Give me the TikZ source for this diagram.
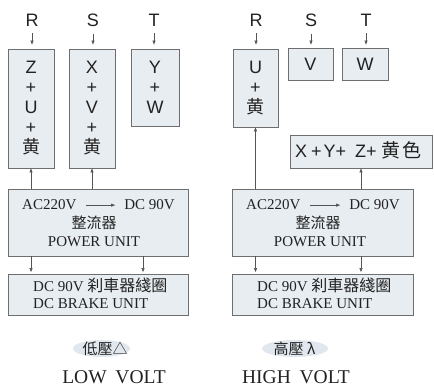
\documentclass[tikz,border=0pt]{standalone}
\usepackage{fontspec}
\usetikzlibrary{arrows.meta,shapes.geometric}
\setmainfont{Liberation Serif}
\newfontfamily\sansf{Liberation Sans}
\newfontfamily\cjk{Noto Sans CJK TC}
\definecolor{boxfill}{HTML}{E8EDF1}
\definecolor{boxline}{HTML}{6E6E6E}
\definecolor{ink}{HTML}{222222}
\definecolor{arrowc}{HTML}{555555}
\definecolor{ellfill}{HTML}{E0E7EE}
\begin{document}
\begin{tikzpicture}[x=1pt,y=-1pt,
  box/.style={draw=boxline, fill=boxfill, line width=0.8pt, inner sep=0pt, text=ink, align=center,
              font=\sansf\fontsize{18}{20}\selectfont},
  lab/.style={inner sep=0pt, text=ink, font=\sansf\fontsize{18}{20}\selectfont},
  arr/.style={draw=arrowc, line width=0.6pt, -{Triangle[length=4pt,width=3pt]}},
  ser/.style={inner sep=0pt, text=ink, font=\fontsize{15}{18}\selectfont},
  cjkt/.style={inner sep=0pt, text=ink, font=\cjk\fontsize{15}{16}\selectfont},
  big/.style={inner sep=0pt, text=ink, font=\fontsize{19.5}{22}\selectfont},
  ell/.style={ellipse, fill=ellfill, inner sep=0pt, minimum height=17pt}
]
\fill[white] (0,0) rectangle (434,387);
\useasboundingbox (0,0) rectangle (434,387);

% ---------- LEFT: low volt ----------
\node[lab] (R1) at (32,20) {R};
\node[lab] (S1) at (93,20) {S};
\node[lab] (T1) at (154,20) {T};

\node[box, minimum width=46pt, minimum height=119pt] (b1) at (31,108.5) {Z\\+\\U\\+\\{\cjk\fontsize{18}{20}\selectfont 黄}};
\node[box, minimum width=46pt, minimum height=119pt] (b2) at (92,108.5) {X\\+\\V\\+\\{\cjk\fontsize{18}{20}\selectfont 黄}};
\node[box, minimum width=48pt, minimum height=77pt] (b3) at (155,87.5) {Y\\+\\W};

\draw[arr, shorten <=7pt, shorten >=4pt] (R1.south) -- (R1.south |- b1.north);
\draw[arr, shorten <=7pt, shorten >=4pt] (S1.south) -- (S1.south |- b2.north);
\draw[arr, shorten <=7pt, shorten >=4pt] (T1.south) -- (T1.south |- b3.north);

\node[box, minimum width=180pt, minimum height=67pt] (pw1) at (98,222.5) {};
\node[ser, anchor=base west] (ac1) at (22,210) {AC220V};
\node[ser, anchor=base east] (dc1) at (175,210) {DC 90V};
\draw[arr, shorten <=9pt, shorten >=9pt] (ac1.east) -- (dc1.west);
\node[cjkt, anchor=base] (zl1) at (94,229) {整流器};
\node[ser, anchor=base] (pu1) at (94,247) {POWER UNIT};

\node[box, minimum width=180pt, minimum height=41pt] (br1) at (98,294.5) {};
\node[ser, anchor=base west] (bk1) at (33,292) {DC 90V {\cjk\fontsize{16}{18}\selectfont 刹車器綫圈}};
\node[ser, anchor=base west] (bu1) at (33,309) {DC BRAKE UNIT};

\draw[arr] (pw1.north -| b1.south) -- (b1.south);
\draw[arr] (pw1.north -| b2.south) -- (b2.south);
\draw[arr, shorten >=1.5pt] (pw1.south -| b1.south) -- (br1.north -| b1.south);
\draw[arr, shorten >=1.5pt] ([xshift=45pt]pw1.south) -- ([xshift=45pt]br1.north);

\node[ell, minimum width=57pt] (e1) at (101.5,348.5) {};
\node[inner sep=0pt, text=ink, anchor=base, font=\cjk\fontsize{15}{17}\selectfont] (lo) at (105,355) {低壓△};
\node[big, anchor=base] (lv) at (114,384) {LOW\hspace{0.45em}VOLT};

% ---------- RIGHT: high volt ----------
\node[lab] (R2) at (256,20) {R};
\node[lab] (S2) at (311,20) {S};
\node[lab] (T2) at (366,20) {T};

\node[box, minimum width=45pt, minimum height=78pt] (bU) at (255.5,88) {U\\+\\{\cjk\fontsize{18}{20}\selectfont 黄}};
\node[box, minimum width=45pt, minimum height=32pt] (bV) at (310.5,64) {V};
\node[box, minimum width=46pt, minimum height=32pt] (bW) at (365,64) {W};
\node[box, minimum width=142pt, minimum height=33pt] (bX) at (361,151.5) {};
\node[lab, anchor=base west] (xyz) at (295,158) {X\hspace{4pt}+\hspace{2pt}Y+\hspace{9pt}Z+\hspace{5pt}{\cjk\fontsize{19}{20}\selectfont 黄\hspace{2pt}色}};

\draw[arr, shorten <=7pt, shorten >=4pt] (R2.south) -- (R2.south |- bU.north);
\draw[arr, shorten <=7pt, shorten >=3pt] (S2.south) -- (S2.south |- bV.north);
\draw[arr, shorten <=7pt, shorten >=3pt] (T2.south) -- (T2.south |- bW.north);

\node[box, minimum width=181pt, minimum height=67pt] (pw2) at (322.5,222.5) {};
\node[ser, anchor=base west] (ac2) at (246,210) {AC220V};
\node[ser, anchor=base east] (dc2) at (400,210) {DC 90V};
\draw[arr, shorten <=9pt, shorten >=9pt] (ac2.east) -- (dc2.west);
\node[cjkt, anchor=base] (zl2) at (318,229) {整流器};
\node[ser, anchor=base] (pu2) at (320,247) {POWER UNIT};

\node[box, minimum width=181pt, minimum height=41pt] (br2) at (322.5,294.5) {};
\node[ser, anchor=base west] (bk2) at (257,292) {DC 90V {\cjk\fontsize{16}{18}\selectfont 刹車器綫圈}};
\node[ser, anchor=base west] (bu2) at (257,309) {DC BRAKE UNIT};

\draw[arr] (pw2.north -| bU.south) -- (bU.south);
\draw[arr] (pw2.north -| bX.south) -- (bX.south);
\draw[arr, shorten >=1.5pt] (pw2.south -| bU.south) -- (br2.north -| bU.south);
\draw[arr, shorten >=1.5pt] (pw2.south -| bX.south) -- (br2.north -| bX.south);

\node[ell, minimum width=66pt] (e2) at (295,348.5) {};
\node[inner sep=0pt, text=ink, anchor=base, font=\cjk\fontsize{15}{17}\selectfont] (hi) at (294.5,355) {高壓 λ};
\node[big, anchor=base] (hv) at (296,384) {HIGH\hspace{0.45em}VOLT};
\end{tikzpicture}
\end{document}
